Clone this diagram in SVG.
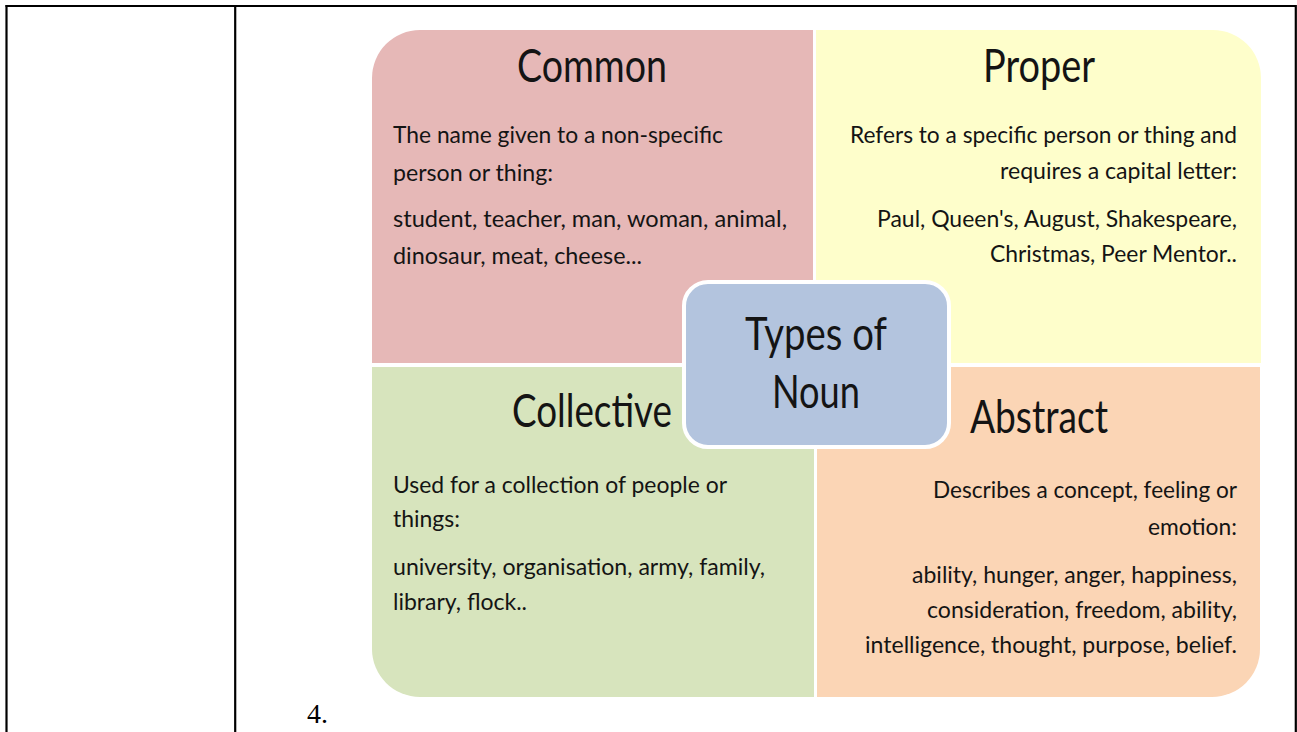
<svg xmlns="http://www.w3.org/2000/svg" width="1297" height="732" viewBox="0 0 1297 732">
<style>
.tl{stroke:#000;stroke-width:2.2;fill:none}
.t{font-family:Lato,"Open Sans",sans-serif;fill:#141414}
.h{font-size:46px}
.b{font-size:23.5px}
.c{font-size:47px}
.n{font-family:"Liberation Serif",serif;font-size:28px;fill:#000}
</style>
<rect width="1297" height="732" fill="#fff"/>
<g id="table">
<line class="tl" x1="5.5" y1="6" x2="1296" y2="6"/>
<line class="tl" x1="6.5" y1="5" x2="6.5" y2="732"/>
<line class="tl" x1="235.2" y1="5" x2="235.2" y2="732"/>
<line class="tl" x1="1295.8" y1="5" x2="1295.8" y2="732"/>
<text class="n" x="307" y="723">4.</text>
</g>
<g id="common">
<path d="M372,363 V78 A48,48 0 0 1 420,30 H813 V363 Z" fill="#e6b8b7"/>
<text class="t h" x="517" y="82" textLength="150" lengthAdjust="spacingAndGlyphs">Common</text>
<text class="t b" x="393" y="143" textLength="330" lengthAdjust="spacingAndGlyphs">The name given to a non-specific</text>
<text class="t b" x="393" y="181" textLength="160" lengthAdjust="spacingAndGlyphs">person or thing:</text>
<text class="t b" x="393" y="227" textLength="394" lengthAdjust="spacingAndGlyphs">student, teacher, man, woman, animal,</text>
<text class="t b" x="393" y="264" textLength="249" lengthAdjust="spacingAndGlyphs">dinosaur, meat, cheese...</text>
</g>
<g id="proper">
<path d="M816,30 H1213 A48,48 0 0 1 1261,78 V363 H816 Z" fill="#fefecb"/>
<text class="t h" x="983" y="82" textLength="112" lengthAdjust="spacingAndGlyphs">Proper</text>
<text class="t b" x="850" y="143" textLength="387" lengthAdjust="spacingAndGlyphs">Refers to a specific person or thing and</text>
<text class="t b" x="1000" y="179" textLength="237" lengthAdjust="spacingAndGlyphs">requires a capital letter:</text>
<text class="t b" x="877" y="227" textLength="360" lengthAdjust="spacingAndGlyphs">Paul, Queen's, August, Shakespeare,</text>
<text class="t b" x="990" y="262" textLength="247" lengthAdjust="spacingAndGlyphs">Christmas, Peer Mentor..</text>
</g>
<g id="collective">
<path d="M372,367 H814 V697 H420 A48,48 0 0 1 372,649 Z" fill="#d7e4bd"/>
<text class="t h" x="512" y="427" textLength="160" lengthAdjust="spacingAndGlyphs">Collective</text>
<text class="t b" x="393" y="493" textLength="334" lengthAdjust="spacingAndGlyphs">Used for a collection of people or</text>
<text class="t b" x="393" y="527" textLength="67" lengthAdjust="spacingAndGlyphs">things:</text>
<text class="t b" x="393" y="575" textLength="372" lengthAdjust="spacingAndGlyphs">university, organisation, army, family,</text>
<text class="t b" x="393" y="610" textLength="134" lengthAdjust="spacingAndGlyphs">library, flock..</text>
</g>
<g id="abstract">
<path d="M817,367 H1260 V649 A48,48 0 0 1 1212,697 H817 Z" fill="#fbd5b5"/>
<text class="t h" x="970" y="433" textLength="138" lengthAdjust="spacingAndGlyphs">Abstract</text>
<text class="t b" x="933" y="498" textLength="304" lengthAdjust="spacingAndGlyphs">Describes a concept, feeling or</text>
<text class="t b" x="1148" y="535" textLength="89" lengthAdjust="spacingAndGlyphs">emotion:</text>
<text class="t b" x="912" y="583" textLength="325" lengthAdjust="spacingAndGlyphs">ability, hunger, anger, happiness,</text>
<text class="t b" x="927" y="618" textLength="310" lengthAdjust="spacingAndGlyphs">consideration, freedom, ability,</text>
<text class="t b" x="865" y="653" textLength="372" lengthAdjust="spacingAndGlyphs">intelligence, thought, purpose, belief.</text>
</g>
<g id="center">
<rect x="684" y="282" width="265" height="165" rx="24" fill="#b3c4de" stroke="#fff" stroke-width="4"/>
<text class="t c" x="745" y="350" textLength="142" lengthAdjust="spacingAndGlyphs">Types of</text>
<text class="t c" x="772" y="408" textLength="88" lengthAdjust="spacingAndGlyphs">Noun</text>
</g>
<g id="connectors"/>
</svg>
